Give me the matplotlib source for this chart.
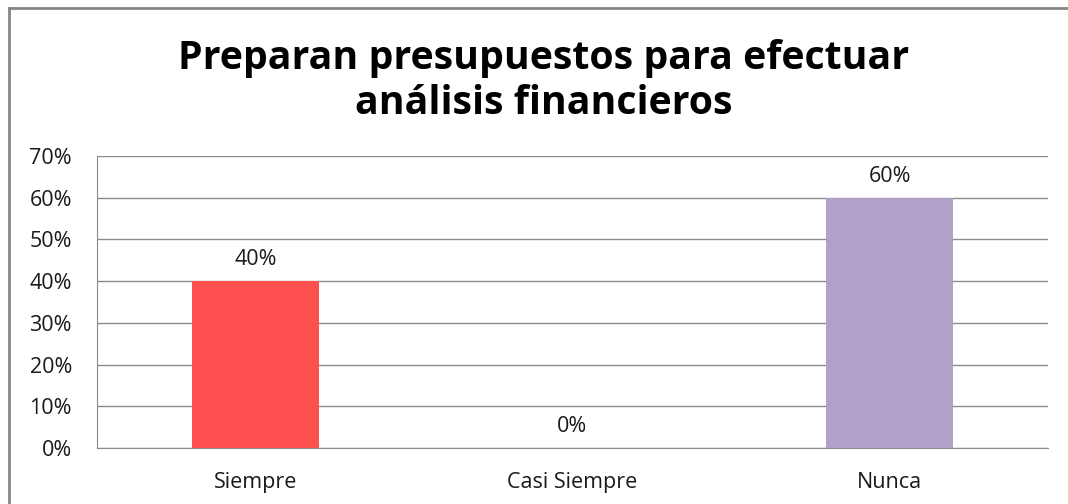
import matplotlib

matplotlib.use("Agg", force=True)
import matplotlib.pyplot as plt
from matplotlib.lines import Line2D
from matplotlib.ticker import FuncFormatter, MultipleLocator

# datos del gráfico
categorias = ["Siempre", "Casi Siempre", "Nunca"]
porcentajes = [40, 0, 60]
colores = ["#FF5050", "#FF5050", "#B1A0C7"]
titulo = "Preparan presupuestos para efectuar\nanálisis financieros"

plt.rcParams["font.family"] = ["Open Sans", "DejaVu Sans"]

W, H = 1068, 504
fig = plt.figure(figsize=(W / 100, H / 100), dpi=100)
fig.patch.set_facecolor("white")

# área de trazado en píxeles: x 97..1048, y 156..448
ax = fig.add_axes([97 / W, 1 - 448 / H, (1048 - 97) / W, (448 - 156) / H])

x = range(len(categorias))
bars = ax.bar(x, porcentajes, width=0.4, color=colores, zorder=3)

ax.set_xlim(-0.5, len(categorias) - 0.5)
ax.set_ylim(0, 70)
ax.yaxis.set_major_locator(MultipleLocator(10))
ax.yaxis.set_major_formatter(FuncFormatter(lambda v, _: f"{v:.0f}%"))
ax.grid(axis="y", color="#8C8C8C", linewidth=1.0, zorder=0)
ax.set_axisbelow(True)

for s in ["top", "right"]:
    ax.spines[s].set_visible(False)
ax.spines["left"].set_color("#8C8C8C")
ax.spines["bottom"].set_color("#8C8C8C")

fs = 15.5
ax.set_xticks(list(x))
ax.set_xticklabels(categorias)
ax.tick_params(axis="x", length=0, pad=17, labelsize=fs, colors="#1a1a1a")
ax.tick_params(axis="y", length=0, pad=18, labelsize=fs, colors="#1a1a1a")

for b, v in zip(bars, porcentajes):
    ax.annotate(f"{v}%", (b.get_x() + b.get_width() / 2, v),
                xytext=(0, 8), textcoords="offset points",
                ha="center", va="bottom", fontsize=fs, color="#1a1a1a")

fig.text(0.509, 1 - 81 / H, titulo, ha="center", va="center",
         fontsize=28.3, fontweight="bold", linespacing=1.2, color="black")

# marco exterior (solo borde superior e izquierdo visibles)
fig.add_artist(Line2D([8.5 / W, 1.0], [1 - 7.5 / H, 1 - 7.5 / H],
                      transform=fig.transFigure, color="#868686", linewidth=2))
fig.add_artist(Line2D([8.5 / W, 8.5 / W], [0, 1 - 7.5 / H],
                      transform=fig.transFigure, color="#868686", linewidth=2))

fig.savefig("out.png", dpi=100)
